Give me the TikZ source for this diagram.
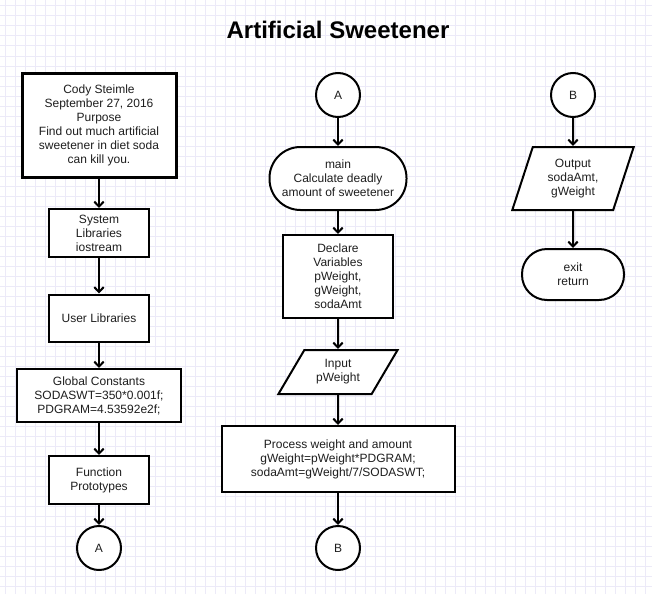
\documentclass[tikz,border=0pt]{standalone}
\usepackage{fontspec}
\setmainfont{Liberation Sans}
\usetikzlibrary{arrows.meta,shapes.geometric}
\definecolor{gridc}{RGB}{236,234,248}
\definecolor{txt}{RGB}{30,30,30}
\begin{document}
\begin{tikzpicture}[x=1pt,y=-1pt,
  every node/.style={font=\fontsize{12}{14}\selectfont, text=txt, align=center, inner sep=0pt},
  box/.style={draw=black, fill=white, line width=2pt},
  conn/.style={draw=black, fill=white, circle, line width=2pt, minimum size=44pt},
  term/.style={draw=black, fill=white, line width=2pt},
  io/.style={draw=black, fill=white, line width=2pt, trapezium, trapezium stretches=true},
  arr/.style={line width=2pt, -{Straight Barb[length=5pt,width=9.5pt]}}]
\useasboundingbox (0,0) rectangle (652,594);
\fill[white] (0,0) rectangle (652,594);
\foreach \x in {5,15,...,645} \draw[gridc, line width=1pt] (\x,0) -- (\x,594);
\foreach \y in {6,16,...,586} \draw[gridc, line width=1pt] (0,\y) -- (652,\y);

\node[font=\bfseries\fontsize{24}{28}\selectfont, text=black] (title) at (338,30) {Artificial Sweetener};

% left column
\node[box, line width=3pt, minimum width=154pt, minimum height=104pt] (b1) at (99,125)
  {Cody Steimle\\September 27, 2016\\Purpose\\Find out much artificial\\sweetener in diet soda\\can kill you.};
\node[box, minimum width=100pt, minimum height=48pt] (b2) at (99,233) {System\\Libraries\\iostream};
\node[box, minimum width=100pt, minimum height=47pt] (b3) at (99,318) {User Libraries};
\node[box, minimum width=164pt, minimum height=53pt] (b4) at (99,395.5) {Global Constants\\SODASWT=350*0.001f;\\PDGRAM=4.53592e2f;};
\node[box, minimum width=100pt, minimum height=48pt] (b5) at (99,480) {Function\\Prototypes};
\node[conn] (cA1) at (99,548) {A};

% middle column
\node[conn] (cA2) at (338,95) {A};
\node[term, rounded corners=31pt, minimum width=137pt, minimum height=63pt] (main) at (338,178.5) {main\\Calculate deadly\\amount of sweetener};
\node[box, minimum width=110pt, minimum height=83pt] (decl) at (338,276.5) {Declare\\Variables\\pWeight,\\gWeight,\\sodaAmt};
\node[io, trapezium left angle=55.7, trapezium right angle=124.3, minimum width=120pt, minimum height=44pt] (inp) at (338,372) {Input\\pWeight};
\node[box, minimum width=233pt, minimum height=66pt] (proc) at (338,459) {Process weight and amount\\gWeight=pWeight*PDGRAM;\\sodaAmt=gWeight/7/SODASWT;};
\node[conn] (cB1) at (338,548) {B};

% right column
\node[conn] (cB2) at (573,95) {B};
\node[io, trapezium left angle=71.6, trapezium right angle=108.4, minimum width=122pt, minimum height=63pt] (out) at (573,178.5) {Output\\sodaAmt,\\gWeight};
\node[term, rounded corners=25pt, minimum width=102pt, minimum height=51pt] (exit) at (573,274.5) {exit\\return};

% connectors
\draw[arr] (b1.south) -- (b2.north);
\draw[arr] (b2.south) -- (b3.north);
\draw[arr] (b3.south) -- (b4.north);
\draw[arr] (b4.south) -- (b5.north);
\draw[arr] (b5.south) -- (cA1.north);
\draw[arr] (cA2.south) -- (main.north);
\draw[arr] (main.south) -- (decl.north);
\draw[arr] (decl.south) -- (inp.north);
\draw[arr] (inp.south) -- (proc.north);
\draw[arr] (proc.south) -- (cB1.north);
\draw[arr] (cB2.south) -- (out.north);
\draw[arr] (out.south) -- (exit.north);
\end{tikzpicture}
\end{document}
